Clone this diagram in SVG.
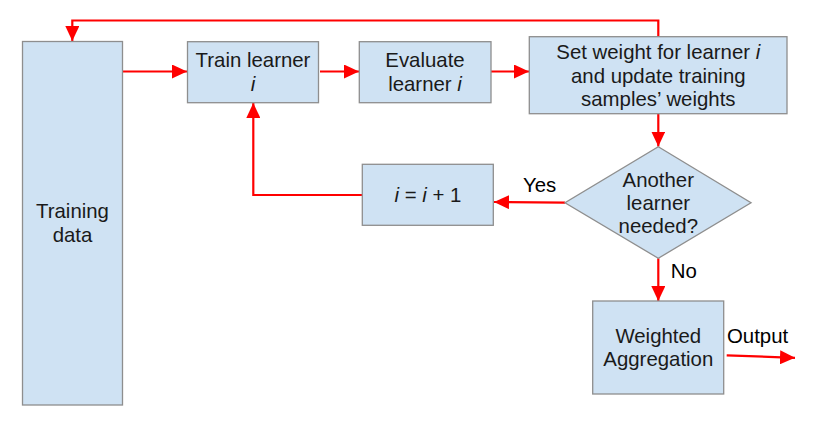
<svg xmlns="http://www.w3.org/2000/svg" width="814" height="433" viewBox="0 0 814 433">
<style>
.box{fill:#cfe2f3;stroke:#8e8e8e;stroke-width:1.3}
.t{font-family:"Liberation Sans",Arial,sans-serif;font-size:20.4px;fill:#1a1a1a;text-anchor:middle}
.l{font-family:"Liberation Sans",Arial,sans-serif;font-size:20.4px;fill:#000}
.c{fill:none;stroke:#ff0000;stroke-width:2.2}
</style>
<defs>
<marker id="ah" markerUnits="userSpaceOnUse" markerWidth="16" markerHeight="14" refX="15" refY="7" orient="auto">
<path d="M0,0 L15,7 L0,14 Z" fill="#ff0000"/>
</marker>
</defs>
<rect width="814" height="433" fill="#ffffff"/>
<g id="connectors">
<polyline class="c" points="658.3,37 658.3,20.5 72.3,20.5 72.3,41" marker-end="url(#ah)"/>
<line class="c" x1="122.5" y1="71.5" x2="187" y2="71.5" marker-end="url(#ah)"/>
<line class="c" x1="320" y1="71.5" x2="359" y2="71.5" marker-end="url(#ah)"/>
<line class="c" x1="491" y1="71.5" x2="529" y2="71.5" marker-end="url(#ah)"/>
<line class="c" x1="658.3" y1="114" x2="658.3" y2="146.5" marker-end="url(#ah)"/>
<line class="c" x1="565" y1="202.7" x2="494" y2="202" marker-end="url(#ah)"/>
<polyline class="c" points="362.3,195 253.3,195 253.3,103" marker-end="url(#ah)"/>
<line class="c" x1="658.3" y1="258.3" x2="658.3" y2="301" marker-end="url(#ah)"/>
<line class="c" x1="726.7" y1="355.3" x2="795" y2="357.8" marker-end="url(#ah)"/>
</g>
<g id="training-data">
<rect class="box" x="22.5" y="41.5" width="100" height="363.5"/>
<text class="t" x="72.5" y="218.3">Training</text>
<text class="t" x="72.5" y="241.7">data</text>
</g>
<g id="train-learner">
<rect class="box" x="187.5" y="41.7" width="131" height="61"/>
<text class="t" x="253" y="66.7">Train learner</text>
<text class="t" x="253" y="90.7" font-style="italic">i</text>
</g>
<g id="evaluate-learner">
<rect class="box" x="359.3" y="41.7" width="131.7" height="61"/>
<text class="t" x="425" y="66.7">Evaluate</text>
<text class="t" x="425" y="90.7">learner <tspan font-style="italic">i</tspan></text>
</g>
<g id="set-weight">
<rect class="box" x="529.3" y="36.7" width="257.7" height="77"/>
<text class="t" x="658.3" y="59.3">Set weight for learner <tspan font-style="italic">i</tspan></text>
<text class="t" x="658.3" y="83.3">and update training</text>
<text class="t" x="658.3" y="106.3">samples’ weights</text>
</g>
<g id="another-learner">
<polygon class="box" points="658.3,146.7 751,202.7 658.3,258.3 565,202.7"/>
<text class="t" x="658.3" y="186.7">Another</text>
<text class="t" x="658.3" y="210">learner</text>
<text class="t" x="658.3" y="233.3">needed?</text>
</g>
<g id="increment">
<rect class="box" x="362.3" y="164.3" width="131" height="61"/>
<text class="t" x="428" y="201.7"><tspan font-style="italic">i</tspan> = <tspan font-style="italic">i</tspan> + 1</text>
</g>
<g id="weighted-aggregation">
<rect class="box" x="592.7" y="301" width="131" height="93"/>
<text class="t" x="658.3" y="342.7">Weighted</text>
<text class="t" x="658.3" y="366">Aggregation</text>
</g>
<g id="labels">
<text class="l" x="523" y="191.7">Yes</text>
<text class="l" x="670.7" y="278">No</text>
<text class="l" x="727" y="343.3">Output</text>
</g>
</svg>
